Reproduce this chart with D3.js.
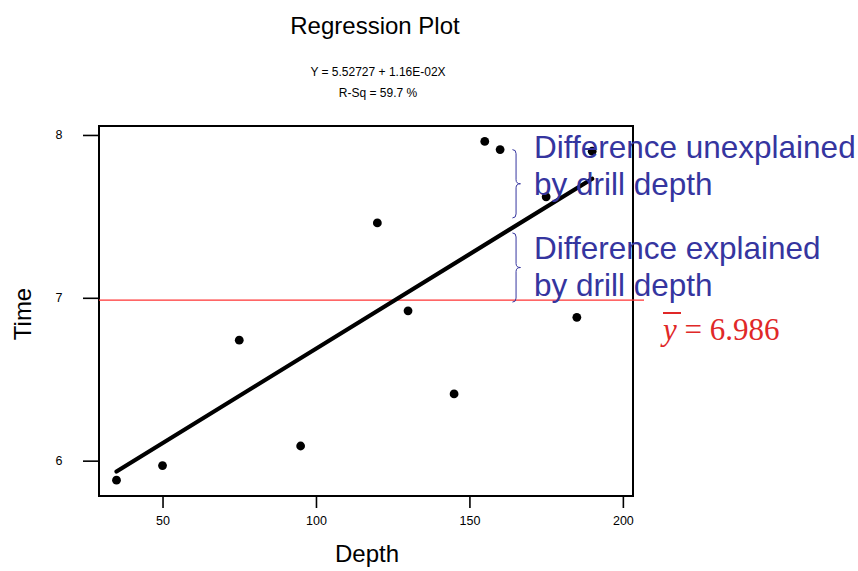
<!DOCTYPE html>
<html>
<head>
<meta charset="utf-8">
<script src="https://cdn.jsdelivr.net/npm/d3@7"></script>
<style>
  html, body { margin: 0; padding: 0; background: #fff; }
  svg { display: block; }
</style>
</head>
<body>
<svg id="chart" width="858" height="571"></svg>
<script>
// Drill depth vs. drilling time observations
const depth = [35, 50, 75, 95, 120, 130, 145, 155, 160, 175, 185, 190];
const time  = [5.88, 5.97, 6.74, 6.09, 7.46, 6.92, 6.41, 7.96, 7.91, 7.62, 6.88, 7.90];

// Fitted line and summary statistics
const intercept = 5.52727;
const slope = 0.0116;
const rSq = 59.7;
const yMean = 6.986;

// Axis ticks and ranges
const xTicks = [50, 100, 150, 200];
const yTicks = [6, 7, 8];
const xDomain = [29.3, 203.3];
const yDomain = [5.783, 8.055];

// Annotation column (depth where the braces sit)
const braceDepth = 165;
const braceTop = 7.91;

const svg = d3.select("#chart");
const box = { left: 99, right: 633, top: 126, bottom: 496 };

const x = d3.scaleLinear().domain(xDomain).range([box.left, box.right]);
const y = d3.scaleLinear().domain(yDomain).range([box.bottom, box.top]);

const sans = "'Liberation Sans', Arial, Helvetica, sans-serif";
const serif = "'Liberation Serif', 'Times New Roman', serif";

// Titles
svg.append("text").attr("x", 375).attr("y", 34).attr("text-anchor", "middle")
  .style("font-family", sans).style("font-size", "24px").text("Regression Plot");
svg.append("text").attr("x", 378).attr("y", 76).attr("text-anchor", "middle")
  .style("font-family", sans).style("font-size", "12px")
  .text(`Y = ${intercept} + ${slope.toExponential(2).replace("e-", "E-0").toUpperCase()}X`);
svg.append("text").attr("x", 378).attr("y", 97).attr("text-anchor", "middle")
  .style("font-family", sans).style("font-size", "12px")
  .text(`R-Sq = ${rSq} %`);

// Axes
const yAxis = svg.append("g").attr("transform", `translate(${box.left},0)`)
  .call(d3.axisLeft(y).tickValues(yTicks).tickSize(16).tickPadding(24).tickFormat(d3.format("d")));
const xAxis = svg.append("g").attr("transform", `translate(0,${box.bottom})`)
  .call(d3.axisBottom(x).tickValues(xTicks).tickSize(12).tickPadding(8).tickFormat(d3.format("d")));
[yAxis, xAxis].forEach(g => {
  g.select(".domain").remove();
  g.selectAll(".tick line").attr("stroke", "#000").attr("stroke-width", 1.6);
  g.selectAll(".tick text").attr("fill", "#000")
    .style("font-family", sans).style("font-size", "12.5px");
});
yAxis.selectAll(".tick text").attr("text-anchor", "middle").attr("dx", "0");

// Plot frame
svg.append("rect")
  .attr("x", box.left).attr("y", box.top)
  .attr("width", box.right - box.left).attr("height", box.bottom - box.top)
  .attr("fill", "none").attr("stroke", "#000").attr("stroke-width", 2);

// Axis labels
svg.append("text").attr("x", 367).attr("y", 562).attr("text-anchor", "middle")
  .style("font-family", sans).style("font-size", "24px").text("Depth");
svg.append("text").attr("transform", "translate(31,314) rotate(-90)").attr("text-anchor", "middle")
  .style("font-family", sans).style("font-size", "24px").text("Time");

// Mean line
svg.append("line")
  .attr("x1", box.left).attr("x2", box.right + 11)
  .attr("y1", y(yMean)).attr("y2", y(yMean))
  .attr("stroke", "#ff3333").attr("stroke-width", 1.2);

// Regression line over the observed depth range
const xr = d3.extent(depth);
svg.append("line")
  .attr("x1", x(xr[0])).attr("y1", y(intercept + slope * xr[0]))
  .attr("x2", x(xr[1])).attr("y2", y(intercept + slope * xr[1]))
  .attr("stroke", "#000").attr("stroke-width", 4.2).attr("stroke-linecap", "round");

// Observations
svg.append("g").selectAll("circle")
  .data(depth.map((d, i) => [d, time[i]]))
  .join("circle")
  .attr("cx", d => x(d[0])).attr("cy", d => y(d[1])).attr("r", 4.4)
  .attr("fill", "#000");

// Curly braces (tip pointing right)
function brace(bx, y1, y2, w) {
  const ym = (y1 + y2) / 2, r = 4, s = bx + w * 0.45;
  return `M${bx},${y1} Q${s},${y1} ${s},${y1 + r} L${s},${ym - r} Q${s},${ym} ${bx + w},${ym}` +
         ` Q${s},${ym} ${s},${ym + r} L${s},${y2 - r} Q${s},${y2} ${bx},${y2}`;
}
const bxp = x(braceDepth) - 3;
const yHat = y(intercept + slope * braceDepth);
const blue = "#35359f";
svg.append("path").attr("d", brace(bxp, y(braceTop), yHat - 8, 8))
  .attr("fill", "none").attr("stroke", blue).attr("stroke-width", 1);
svg.append("path").attr("d", brace(bxp, yHat + 7, y(yMean) + 2, 8))
  .attr("fill", "none").attr("stroke", blue).attr("stroke-width", 1);

// Annotation text
const notes = [
  ["Difference unexplained", 158],
  ["by drill depth", 195],
  ["Difference explained", 259],
  ["by drill depth", 296]
];
svg.append("g").selectAll("text").data(notes).join("text")
  .attr("x", 534).attr("y", d => d[1])
  .style("font-family", sans).style("font-size", "31.5px").attr("fill", blue)
  .text(d => d[0]);

// Mean label: y-bar = 6.986
const red = "#e02828";
const meanLabel = svg.append("text").attr("x", 663).attr("y", 340)
  .style("font-family", serif).style("font-size", "31px").attr("fill", red);
meanLabel.append("tspan").style("font-style", "italic").text("y");
meanLabel.append("tspan").text(` = ${yMean}`);
svg.append("line").attr("x1", 663).attr("x2", 681).attr("y1", 313).attr("y2", 313)
  .attr("stroke", red).attr("stroke-width", 2);
</script>
</body>
</html>
